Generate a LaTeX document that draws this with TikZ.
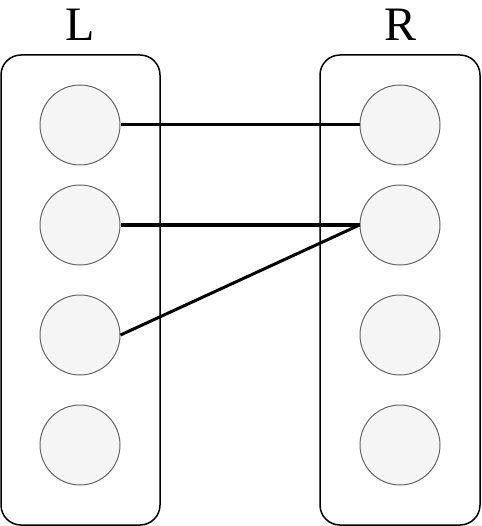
\documentclass[tikz,border=0pt]{standalone}
\usepackage{fontspec}
\setmainfont{Liberation Serif}
\definecolor{vfill}{HTML}{F5F5F5}
\definecolor{vline}{HTML}{666666}

\begin{document}
\begin{tikzpicture}[
        x=1pt, y=-1pt,
        side/.style={draw, line width=1.5pt, rounded corners=20pt},
        vert/.style={circle, draw=vline, fill=vfill, line width=1pt,
          minimum size=80pt, inner sep=0pt},
        match/.style={line width=3pt},
        title/.style={font=\fontsize{48}{48}\selectfont}
      ]
      \useasboundingbox (0,0) rectangle (481,526);
      \draw[side] (1,55) rectangle (160,525);
      \draw[side] (320,55) rectangle (480,525);
      \node (tl) [title] at (80,25) {L};
      \node (tr) [title] at (400,25) {R};
      \node (l1) [vert] at (80,125) {};
      \node (l2) [vert] at (80,225) {};
      \node (l3) [vert] at (80,335) {};
      \node (l4) [vert] at (80,445) {};
      \node (r1) [vert] at (400,125) {};
      \node (r2) [vert] at (400,225) {};
      \node (r3) [vert] at (400,335) {};
      \node (r4) [vert] at (400,445) {};
      \draw[match] (l1.east) -- (r1.west);
      \draw[match] (l2.east) -- (r2.west);
      \draw[match] (l3.east) -- (r2.west);
    \end{tikzpicture}
\end{document}
